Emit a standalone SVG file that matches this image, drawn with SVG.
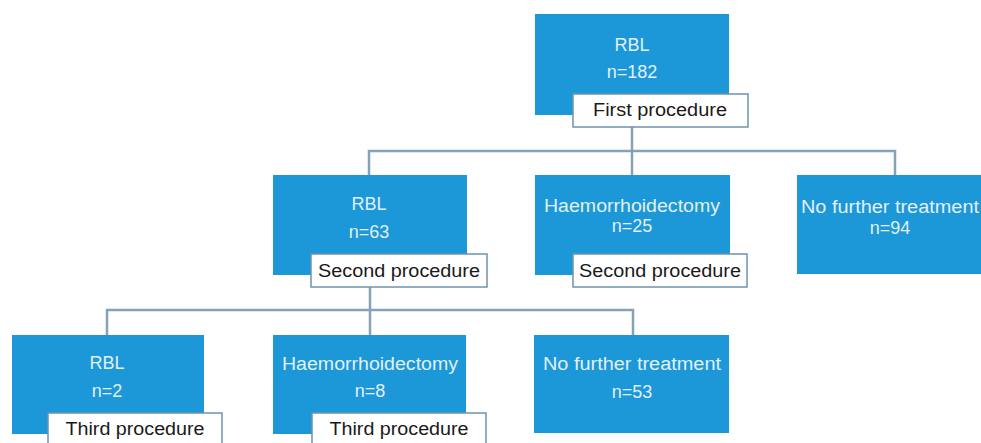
<svg xmlns="http://www.w3.org/2000/svg" width="981" height="443" viewBox="0 0 981 443">
<style>
.box{fill:#1c97d7;}
.lbl{fill:#ffffff;stroke:#6f93ad;stroke-width:1.5;}
.bt{font-family:"Liberation Sans",Arial,sans-serif;font-size:18px;fill:#e2f0f8;text-anchor:middle;}
.lt{font-family:"Liberation Sans",Arial,sans-serif;font-size:18px;fill:#1a1a1a;text-anchor:middle;}
.con{fill:none;stroke:#86a2b6;stroke-width:2.5;}
</style>
<rect width="981" height="443" fill="#ffffff"/>
<g id="connectors">
<path class="con" d="M632 127V151M369 175V151H895V175M632 151V175"/>
<path class="con" d="M370 287V335M107 335V310H633V335"/>
</g>
<g id="n1">
<rect class="box" x="535" y="14" width="194" height="101"/>
<text class="bt" x="632" y="51">RBL</text>
<text class="bt" x="632" y="78">n=182</text>
<rect class="lbl" x="573" y="94" width="175" height="33"/>
<text class="lt" x="660" y="116" textLength="134" lengthAdjust="spacingAndGlyphs">First procedure</text>
</g>
<g id="n2">
<rect class="box" x="273" y="175" width="194" height="100"/>
<text class="bt" x="369" y="210">RBL</text>
<text class="bt" x="369" y="238">n=63</text>
<rect class="lbl" x="311" y="254" width="176" height="33"/>
<text class="lt" x="399" y="277" textLength="162" lengthAdjust="spacingAndGlyphs">Second procedure</text>
</g>
<g id="n3">
<rect class="box" x="535" y="175" width="195" height="100"/>
<text class="bt" x="632" y="212" textLength="176" lengthAdjust="spacingAndGlyphs">Haemorrhoidectomy</text>
<text class="bt" x="632" y="232">n=25</text>
<rect class="lbl" x="573" y="254" width="174" height="33"/>
<text class="lt" x="660" y="277" textLength="162" lengthAdjust="spacingAndGlyphs">Second procedure</text>
</g>
<g id="n4">
<rect class="box" x="797" y="175" width="190" height="99"/>
<text class="bt" x="890" y="213" textLength="178" lengthAdjust="spacingAndGlyphs">No further treatment</text>
<text class="bt" x="890" y="234">n=94</text>
</g>
<g id="n5">
<rect class="box" x="12" y="335" width="192" height="99"/>
<text class="bt" x="107" y="369">RBL</text>
<text class="bt" x="107" y="397">n=2</text>
<rect class="lbl" x="48" y="413" width="174" height="34"/>
<text class="lt" x="135" y="435" textLength="139" lengthAdjust="spacingAndGlyphs">Third procedure</text>
</g>
<g id="n6">
<rect class="box" x="273" y="335" width="193" height="99"/>
<text class="bt" x="370" y="370" textLength="176" lengthAdjust="spacingAndGlyphs">Haemorrhoidectomy</text>
<text class="bt" x="370" y="397">n=8</text>
<rect class="lbl" x="312" y="413" width="174" height="34"/>
<text class="lt" x="399" y="435" textLength="139" lengthAdjust="spacingAndGlyphs">Third procedure</text>
</g>
<g id="n7">
<rect class="box" x="534" y="335" width="195" height="98"/>
<text class="bt" x="632" y="370" textLength="178" lengthAdjust="spacingAndGlyphs">No further treatment</text>
<text class="bt" x="632" y="398">n=53</text>
</g>
</svg>
